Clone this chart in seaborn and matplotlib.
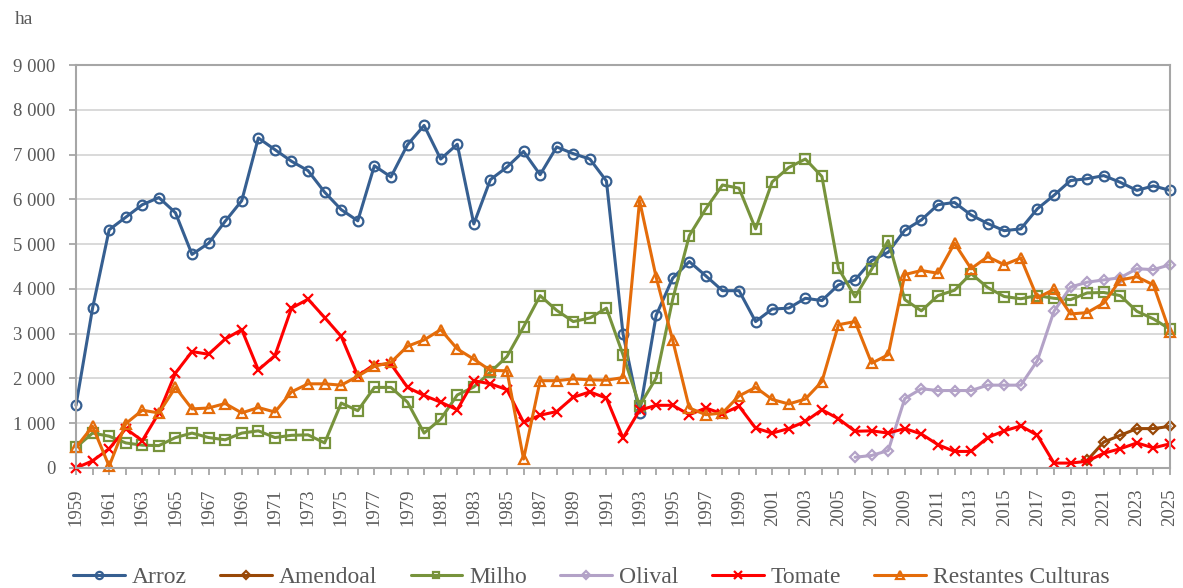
import numpy as np
import pandas as pd
import matplotlib
matplotlib.use("Agg")
import matplotlib.pyplot as plt
import seaborn as sns
from matplotlib.ticker import FuncFormatter, MultipleLocator

years = list(range(1959, 2026))

arroz = [1400, 3570, 5320, 5600, 5880, 6040, 5700, 4770, 5020, 5510,
         5970, 7370, 7110, 6850, 6640, 6160, 5770, 5520, 6750, 6500,
         7220, 7650, 6900, 7230,
         5450, 6440, 6720, 7070, 6550, 7170, 7020, 6900, 6410, 3000,
         1230, 3410, 4240, 4610, 4290, 3960, 3960, 3270, 3550, 3570,
         3790, 3740, 4090, 4200, 4630, 4820, 5310, 5540, 5880, 5930,
         5650, 5460, 5300, 5340, 5790, 6090, 6420, 6460, 6530, 6380,
         6200, 6300, 6200]

milho = [460, 780, 710, 560, 510, 500, 680, 780, 680, 630,
         780, 830, 680, 730, 740, 560, 1450, 1280, 1800, 1800,
         1470, 780, 1090, 1630,
         1810, 2140, 2490, 3150, 3850, 3520, 3270, 3350, 3570, 2530,
         1390, 2010, 3770, 5190, 5790, 6320, 6250, 5340, 6390, 6710,
         6900, 6510, 4460, 3820, 4440, 5080, 3760, 3510, 3850, 3970,
         4340, 4030, 3830, 3780, 3850, 3790, 3760, 3910, 3920, 3850,
         3500, 3330, 3100]

tomate = [0, 160, 430, 880, 610, 1230, 2120, 2600, 2540, 2880,
          3090, 2190, 2510, 3570, 3770, 3360, 2940, 2060, 2310, 2320,
          1800, 1620, 1470, 1300,
          1950, 1880, 1750, 1020, 1180, 1260, 1580, 1700, 1560, 670,
          1290, 1400, 1400, 1190, 1340, 1210, 1380, 890, 780, 880,
          1040, 1300, 1100, 820, 830, 780, 880, 760, 520, 370,
          370, 680, 830, 940, 730, 110, 110, 150, 330, 430,
          560, 450, 540]

restantes = [460, 930, 40, 990, 1290, 1230, 1800, 1320, 1340, 1440,
             1230, 1350, 1250, 1700, 1880, 1880, 1850, 2050, 2270, 2360,
             2720, 2860, 3090, 2660,
             2430, 2180, 2170, 200, 1950, 1950, 1990, 1970, 1960, 2020,
             5970, 4260, 2850, 1340, 1190, 1230, 1610, 1800, 1530, 1430,
             1540, 1930, 3200, 3270, 2340, 2530, 4320, 4410, 4350, 5020,
             4450, 4720, 4540, 4690, 3800, 3990, 3440, 3470, 3680, 4200,
             4270, 4090, 3030]

olival_start = 2006
olival = [240, 280, 390, 1550, 1770, 1730, 1730, 1730, 1850, 1850,
          1850, 2400, 3500, 4040, 4150, 4200, 4250, 4450, 4430, 4540]

amendoal_start = 2020
amendoal = [170, 580, 730, 880, 880, 930]

series_names = ["Arroz", "Amendoal", "Milho", "Olival", "Tomate", "Restantes Culturas"]
colors = ["#365F91", "#984807", "#77933C", "#B3A2C7", "#FF0000", "#E46C0A"]
markers = ["o", "D", "s", "D", "x", "^"]
msizes = [7, 5.5, 6.5, 5.5, 7, 7]

df = pd.DataFrame({"year": years, "Arroz": arroz, "Milho": milho,
                   "Tomate": tomate, "Restantes Culturas": restantes})
df["Olival"] = np.nan
df.loc[df["year"] >= olival_start, "Olival"] = olival
df["Amendoal"] = np.nan
df.loc[df["year"] >= amendoal_start, "Amendoal"] = amendoal

sns.set_theme(style="white")
plt.rcParams["font.family"] = ["Liberation Serif", "DejaVu Serif"]
text_color = "#595959"

fig = plt.figure(figsize=(11.83, 5.88), dpi=100)
ax = fig.add_axes([76 / 1183, 1 - 468 / 588, (1170 - 76) / 1183, (468 - 65) / 588])

for name, col, mk, ms in zip(series_names, colors, markers, msizes):
    sub = df[["year", name]].dropna()
    kw = dict(marker=mk, markersize=ms, markeredgewidth=1.6, markeredgecolor=col)
    if mk != "x":
        kw["markerfacecolor"] = "none"
    sns.lineplot(x=sub["year"], y=sub[name], ax=ax, color=col, linewidth=2.2,
                 label=name, clip_on=False, **kw)

ax.set_xlim(1959, 2025)
ax.set_ylim(0, 9000)
ax.yaxis.set_major_locator(MultipleLocator(1000))
ax.yaxis.set_major_formatter(FuncFormatter(lambda v, p: f"{int(v):,}".replace(",", " ")))
ax.set_xticks(years)
ax.set_xticklabels([str(y) if (y - 1959) % 2 == 0 else "" for y in years], rotation=90)
ax.grid(axis="y", color="#d9d9d9", linewidth=1.4)
ax.set_axisbelow(True)
for s in ax.spines.values():
    s.set_visible(True)
    s.set_color("#a6a6a6")
    s.set_linewidth(1.5)
ax.tick_params(axis="both", which="both", direction="out", color="#a6a6a6",
               width=1.3, length=5, labelsize=13.5, labelcolor=text_color,
               bottom=True, left=True)
ax.tick_params(axis="y", pad=10)
ax.tick_params(axis="x", pad=10)
ax.set_xlabel("")
ax.set_ylabel("")

fig.text(15 / 1183, 1 - 19 / 588, "ha", fontsize=14, color=text_color,
         ha="left", va="center")

if ax.legend_:
    ax.legend_.remove()
handles, labels = ax.get_legend_handles_labels()
leg = fig.legend(handles, labels, loc="center", bbox_to_anchor=(0.5, 1 - 577 / 588),
                 ncol=6, frameon=False, fontsize=17, handlelength=2.2, markerscale=0.75,
                 handletextpad=0.3, columnspacing=1.4, borderaxespad=0)
for t in leg.get_texts():
    t.set_color(text_color)

fig.savefig("out.png", dpi=100)
